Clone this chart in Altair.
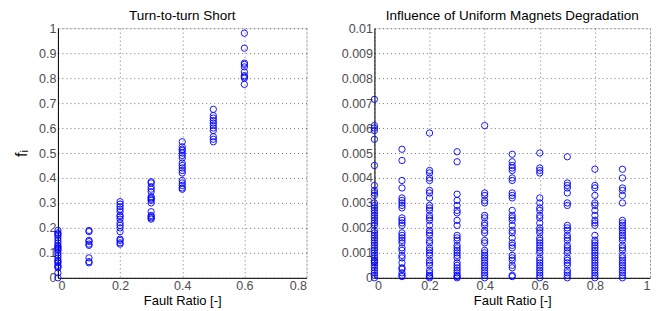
import altair as alt
import pandas as pd

# Left panel: Turn-to-turn Short
left_x = [0.0, 0.1, 0.2, 0.3, 0.4, 0.5, 0.6]
left_vals = [
    [0.19, 0.18, 0.175, 0.17, 0.16, 0.15, 0.14, 0.13, 0.125, 0.12, 0.115, 0.11, 0.1,
     0.09, 0.08, 0.07, 0.065, 0.06, 0.05, 0.045, 0.04, 0.02, 0.0],
    [0.19, 0.185, 0.15, 0.145, 0.135, 0.13, 0.08, 0.065, 0.06],
    [0.305, 0.295, 0.285, 0.275, 0.265, 0.25, 0.245, 0.235, 0.22, 0.21, 0.2, 0.185,
     0.155, 0.15, 0.14, 0.135],
    [0.385, 0.38, 0.365, 0.355, 0.345, 0.325, 0.32, 0.315, 0.31, 0.3, 0.265, 0.25,
     0.245, 0.24, 0.235],
    [0.545, 0.525, 0.515, 0.51, 0.5, 0.49, 0.48, 0.46, 0.45, 0.44, 0.43, 0.42, 0.39,
     0.38, 0.37, 0.36, 0.355],
    [0.675, 0.65, 0.64, 0.63, 0.62, 0.61, 0.6, 0.59, 0.565, 0.555, 0.545],
    [0.98, 0.92, 0.86, 0.855, 0.845, 0.825, 0.81, 0.805, 0.8, 0.775],
]

# Right panel: Influence of Uniform Magnets Degradation
right_x = [0.0, 0.1, 0.2, 0.3, 0.4, 0.5, 0.6, 0.7, 0.8, 0.9]
right_vals = [
    [0.00715, 0.0061, 0.006, 0.0059, 0.00555, 0.0045, 0.0037, 0.0035, 0.0034, 0.0033,
     0.003, 0.0029, 0.0028, 0.0027, 0.0026, 0.0025, 0.0024, 0.0023, 0.0022, 0.0021,
     0.0019, 0.0018, 0.0017, 0.0016, 0.0015, 0.0014, 0.0013, 0.0012, 0.0011, 0.001,
     0.0009, 0.0008, 0.0007, 0.00065, 0.0006, 0.0005, 0.0004, 0.0003, 0.0002, 0.0001, 0.0],
    [0.00515, 0.0047, 0.0039, 0.0036, 0.0032, 0.0031, 0.003, 0.0029, 0.0028, 0.0024,
     0.0023, 0.0022, 0.0021, 0.0018, 0.0017, 0.0016, 0.0015, 0.0014, 0.0012, 0.0011,
     0.0009, 0.0008, 0.0006, 0.0004, 0.00035, 0.0002, 0.0001, 0.00005],
    [0.0058, 0.0043, 0.0042, 0.004, 0.0039, 0.0035, 0.0034, 0.0032, 0.0029, 0.0028,
     0.0027, 0.0025, 0.0024, 0.0023, 0.0021, 0.0019, 0.0018, 0.0017, 0.0015, 0.0014,
     0.0012, 0.0011, 0.001, 0.0009, 0.0007, 0.0006, 0.0005, 0.0003, 0.0002, 0.0001,
     0.00005, 0.0],
    [0.00505, 0.00465, 0.00335, 0.0031, 0.0029, 0.0027, 0.0026, 0.0023, 0.0021, 0.0017,
     0.0016, 0.0015, 0.0013, 0.0012, 0.0011, 0.001, 0.0009, 0.0008, 0.0006, 0.0005,
     0.0004, 0.0003, 0.0002, 0.0001, 0.00005, 0.0],
    [0.0061, 0.0034, 0.0033, 0.0031, 0.003, 0.0025, 0.0024, 0.0022, 0.0021, 0.0019,
     0.0018, 0.0015, 0.0014, 0.0011, 0.001, 0.0009, 0.0008, 0.0007, 0.0006, 0.0005,
     0.0004, 0.0003, 0.0002, 0.0001, 0.0],
    [0.00495, 0.00465, 0.0045, 0.0044, 0.0043, 0.004, 0.0039, 0.0034, 0.0033, 0.0032,
     0.0027, 0.0025, 0.0024, 0.0023, 0.0021, 0.0019, 0.0018, 0.0016, 0.0014, 0.0013,
     0.0012, 0.0009, 0.0008, 0.0007, 0.0005, 0.0004, 0.0001, 0.00005],
    [0.005, 0.0044, 0.0043, 0.0042, 0.0032, 0.003, 0.0028, 0.0027, 0.0025, 0.0024,
     0.0022, 0.002, 0.0019, 0.0018, 0.0016, 0.0015, 0.0014, 0.0013, 0.0012, 0.0011,
     0.001, 0.0008, 0.0007, 0.0006, 0.0005, 0.0004, 0.0003, 0.0002, 0.0001, 0.0],
    [0.00485, 0.0038, 0.0037, 0.0036, 0.0034, 0.003, 0.0029, 0.0021, 0.002, 0.0019,
     0.0017, 0.0016, 0.0015, 0.0013, 0.0012, 0.0011, 0.001, 0.0008, 0.0007, 0.0006,
     0.0005, 0.0003, 0.0002, 0.0001, 0.0],
    [0.00435, 0.0037, 0.0036, 0.0033, 0.003, 0.0029, 0.0027, 0.0025, 0.0023, 0.0022,
     0.0021, 0.0017, 0.0015, 0.0014, 0.0013, 0.0012, 0.0011, 0.001, 0.0009, 0.0008,
     0.0007, 0.0006, 0.0005, 0.0004, 0.0003, 0.0002, 0.0001, 0.0],
    [0.00435, 0.004, 0.0036, 0.0035, 0.0033, 0.003, 0.0023, 0.0022, 0.0021, 0.002,
     0.0019, 0.0018, 0.0017, 0.0016, 0.0015, 0.0013, 0.0012, 0.0011, 0.0009, 0.0008,
     0.0007, 0.0006, 0.0005, 0.0004, 0.0003, 0.0002, 0.0001, 0.0],
]

left_df = pd.DataFrame(
    [{"x": xv, "y": yv} for xv, ys in zip(left_x, left_vals) for yv in ys])
right_df = pd.DataFrame(
    [{"x": xv, "y": yv} for xv, ys in zip(right_x, right_vals) for yv in ys])

FONT = "Liberation Sans"
BLUE = "#0000ff"


def axis(values, title="", title_pad=2, title_size=13):
    return alt.Axis(
        values=values, format="~g", title=title,
        grid=True, gridColor="#000000", gridDash=[1, 3], gridOpacity=0.55,
        gridWidth=1,
        domainColor="#000000", ticks=False,
        labelColor="#4d4d4d", labelFont=FONT, labelFontSize=12.5,
        titleFont=FONT, titleFontSize=title_size, titleFontWeight="normal",
        titleColor="#000000", labelPadding=2, titlePadding=title_pad,
    )


def title(text):
    return alt.TitleParams(text, font=FONT, fontSize=13.5, fontWeight="normal",
                           color="#000000", offset=0, frame="group")


left = alt.Chart(left_df).mark_point(
    shape="circle", filled=False, color=BLUE, size=40, strokeWidth=1, opacity=0.9
).encode(
    x=alt.X("x:Q", scale=alt.Scale(domain=[0, 0.8], nice=False),
            axis=axis([0, 0.2, 0.4, 0.6, 0.8], "Fault Ratio [-]")),
    y=alt.Y("y:Q", scale=alt.Scale(domain=[0, 1], nice=False),
            axis=axis([i / 10 for i in range(11)], "fᵢ", title_pad=9,
                      title_size=16)),
).properties(width=249, height=250, title=title("Turn-to-turn Short"))

right = alt.Chart(right_df).mark_point(
    shape="circle", filled=False, color=BLUE, size=40, strokeWidth=1, opacity=0.9
).encode(
    x=alt.X("x:Q", scale=alt.Scale(domain=[0, 1], nice=False),
            axis=axis([0, 0.2, 0.4, 0.6, 0.8, 1], "Fault Ratio [-]")),
    y=alt.Y("y:Q", scale=alt.Scale(domain=[0, 0.01], nice=False),
            axis=axis([i / 1000 for i in range(11)], "")),
).properties(width=276, height=250,
             title=title("Influence of Uniform Magnets Degradation"))

chart = alt.hconcat(left, right, spacing=33).configure_view(
    stroke="#000000", strokeWidth=1
).configure(background="#ffffff",
            padding={"left": 5, "top": 0, "right": 0, "bottom": 0})

chart.save("out.html", embed_options={"renderer": "svg", "actions": False})
